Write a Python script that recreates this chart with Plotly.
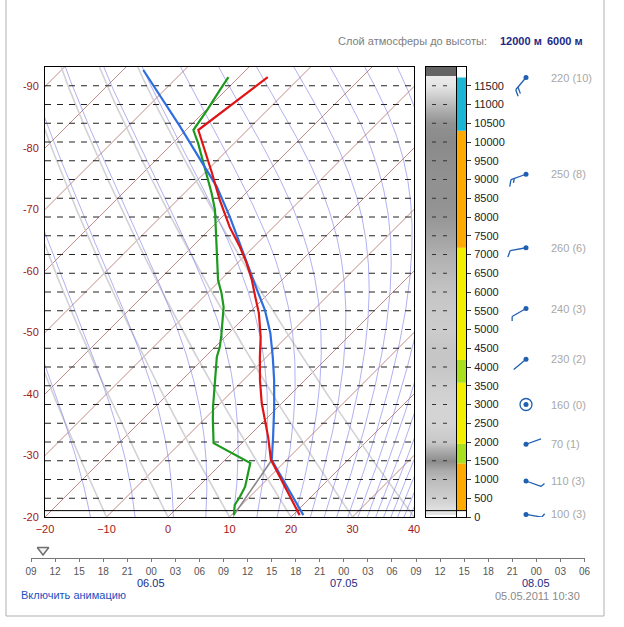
import numpy as np
import plotly.graph_objects as go

# ---------------- data ----------------
# temperature profile (height m, temperature °C)
temp_height = [50, 1530, 2130, 2590, 3040, 3650, 4270, 4800, 5440, 5870, 6320, 6770,
               7200, 7730, 8450, 9200, 10320, 11730]
temp_value = [21.1, 7.4, 3.3, 0.0, -3.3, -7.3, -11.1, -14.2, -18.4, -21.6, -24.9, -28.5,
              -32.2, -37.1, -43.1, -49.0, -58.0, -55.3]

# dew point profile
dew_height = [50, 320, 540, 810, 1440, 1970, 2590, 2940, 3650, 4270, 4530, 4850, 5600,
              5970, 6320, 7200, 8190, 8640, 9440, 9970, 10320, 10850, 11390, 11730]
dew_value = [10.4, 8.9, 8.4, 7.6, 4.6, -4.6, -8.5, -10.6, -14.6, -18.1, -19.2, -20.9, -25.1,
             -27.7, -30.4, -36.0, -42.3, -45.6, -51.8, -55.9, -58.8, -59.8, -61.0, -61.7]

# parcel (state) curve
parcel_height = [50, 1520, 2130, 2930, 3650, 4270, 4910, 5520, 6050, 7030, 8010, 8810,
                 9520, 10410, 11920]
parcel_value = [21.7, 7.6, 4.1, -0.6, -5.0, -9.0, -13.3, -17.9, -22.4, -30.6, -38.8, -45.8,
                -52.8, -61.5, -76.7]

# diagram background families
isotherm_values = list(range(-110, 50, 10))            # °C
dry_adiabat_surface_temps = list(range(-60, 50, 10))    # °C at z = 0
moist_adiabat_theta_e = [253.15 + 10 * i for i in range(24)]  # K

left_tick_labels = [-20, -30, -40, -50, -60, -70, -80, -90]
bottom_tick_labels = [-20, -10, 0, 10, 20, 30, 40]
height_levels = list(range(500, 12000, 500))
height_tick_labels = list(range(0, 12000, 500))
ground_height = 170

# humidity column (gray shading, 0 = black, 255 = white)
column_heights = [170, 400, 700, 1000, 1250, 1500, 1750, 2000, 2500, 3000, 3500, 4000, 4500,
                  5000, 5500, 6000, 6500, 7000, 7500, 8000, 8500, 9000, 9500, 10000, 10500,
                  11000, 11500, 11750, 11790, 11950]
column_shade = [228, 212, 200, 188, 170, 140, 170, 200, 212, 212, 206, 198, 198,
                204, 202, 196, 186, 176, 162, 150, 145, 145, 142, 138, 145,
                185, 228, 235, 100, 100]

# cloud/icing layers strip
layer_bottom = [170, 1430, 1950, 3580, 4190, 7180, 10300]
layer_top = [1430, 1950, 3580, 4190, 7180, 10300, 11720]
layer_color = ["#ffaa00", "#a8e020", "#f2f000", "#a8e020", "#f2f000", "#ffaa00", "#1cb6d4"]

# winds
wind_height = [11720, 9140, 7180, 5560, 4210, 3000, 1940, 960, 70]
wind_dir = [220, 250, 260, 240, 230, 160, 70, 110, 100]
wind_speed = [10, 8, 6, 3, 2, 0, 1, 3, 3]

# timeline (hours since 05.05 00:00)
timeline_hours = list(range(9, 79, 3))
timeline_current = 10.5
date_hours = [24, 48, 72]
date_texts = ["06.05", "07.05", "08.05"]

# ---------------- layout geometry (pixels) ----------------
W, H = 624, 627
PLOT_L, PLOT_R, PLOT_T, PLOT_B = 45, 414, 67, 517
X_RANGE = [-20, 40]
Z_RANGE = [0, 12000]
px_per_deg = (PLOT_R - PLOT_L) / (X_RANGE[1] - X_RANGE[0])
px_per_m = (PLOT_B - PLOT_T) / (Z_RANGE[1] - Z_RANGE[0])
SKEW = px_per_m / px_per_deg      # °C of shift per metre (45° isotherms)


def py(v):
    return 1 - v / H


def px(v):
    return v / W


def skew(t, z):
    return [float(a) + SKEW * float(b) for a, b in zip(t, z)]


def std_pressure(z):
    z = np.asarray(z, float)
    p_trop = 1013.25 * np.clip(1 - 0.0065 * z / 288.15, 1e-6, None) ** 5.2559
    p_strat = 226.32 * np.exp(-(z - 11000.0) / 6341.6)
    return np.where(z <= 11000, p_trop, p_strat)


def sat_theta_e(tk, p):
    tc = tk - 273.15
    es = 6.112 * np.exp(17.67 * tc / (tc + 243.5))
    r = 0.622 * es / (p - es)
    return tk * (1000.0 / p) ** 0.2857 * np.exp(2.5e6 * r / (1004.0 * tk))


z_grid = np.linspace(0, 12000, 241)
p_grid = std_pressure(z_grid)


def moist_profile(te):
    lo = np.full_like(p_grid, 150.0)
    hi = np.full_like(p_grid, 318.0)
    for _ in range(50):
        mid = 0.5 * (lo + hi)
        above = sat_theta_e(mid, p_grid) > te
        hi = np.where(above, mid, hi)
        lo = np.where(above, lo, mid)
    return 0.5 * (lo + hi) - 273.15


def joined(segments):
    xs, ys = [], []
    for sx, sy in segments:
        xs += [float(v) for v in sx] + [None]
        ys += [float(v) for v in sy] + [None]
    return xs, ys


fig = go.Figure()

# isotherms
iso_x, iso_y = joined([(skew([t, t], Z_RANGE), Z_RANGE) for t in isotherm_values])
fig.add_trace(go.Scatter(x=iso_x, y=iso_y, mode="lines",
                         line=dict(color="rgba(180,110,105,0.8)", width=1), hoverinfo="skip"))

# dry adiabats
dry = []
for t0 in dry_adiabat_surface_temps:
    tz = (t0 + 273.15) * (p_grid / 1013.25) ** 0.2857 - 273.15
    dry.append((skew(tz, z_grid), z_grid))
dx, dy = joined(dry)
fig.add_trace(go.Scatter(x=dx, y=dy, mode="lines",
                         line=dict(color="rgba(205,205,210,0.9)", width=1.6), hoverinfo="skip"))

# moist adiabats
moist = []
for te in moist_adiabat_theta_e:
    moist.append((skew(moist_profile(te), z_grid), z_grid))
mx, my = joined(moist)
fig.add_trace(go.Scatter(x=mx, y=my, mode="lines",
                         line=dict(color="rgba(115,115,230,0.7)", width=0.8), hoverinfo="skip"))

# dashed height levels
gx, gy = joined([(X_RANGE, [h, h]) for h in height_levels])
fig.add_trace(go.Scatter(x=gx, y=gy, mode="lines",
                         line=dict(color="#222222", width=1, dash="6px,6px"), hoverinfo="skip"))

# ground line
fig.add_trace(go.Scatter(x=X_RANGE, y=[ground_height, ground_height], mode="lines",
                         line=dict(color="#000000", width=1), hoverinfo="skip"))

# mixing-ratio line from surface dew point to LCL
fig.add_trace(go.Scatter(x=skew([dew_value[0], parcel_value[1]], [dew_height[0], parcel_height[1]]),
                         y=[dew_height[0], parcel_height[1]], mode="lines",
                         line=dict(color="#888888", width=1.6), hoverinfo="skip"))

# profiles
fig.add_trace(go.Scatter(x=skew(dew_value, dew_height), y=dew_height, mode="lines",
                         line=dict(color="#1d9a1d", width=2.2), hoverinfo="skip"))
fig.add_trace(go.Scatter(x=skew(parcel_value, parcel_height), y=parcel_height, mode="lines",
                         line=dict(color="#2f6ee0", width=2.2), hoverinfo="skip"))
fig.add_trace(go.Scatter(x=skew(temp_value, temp_height), y=temp_height, mode="lines",
                         line=dict(color="#e01414", width=2.2), hoverinfo="skip"))

# ---------------- right column ----------------
COL_L, COL_SEP, COL_R = 426, 456.5, 466
fig.add_trace(go.Heatmap(x=[0, COL_SEP - COL_L], y=column_heights,
                         z=[[v] for v in column_shade], zmin=0, zmax=255, zsmooth="best",
                         colorscale=[[0, "rgb(0,0,0)"], [1, "rgb(255,255,255)"]],
                         showscale=False, hoverinfo="skip", xaxis="x2", yaxis="y2"))
fig.add_trace(go.Bar(x=[(COL_SEP + COL_R) / 2 - COL_L] * len(layer_bottom),
                     y=[t - b for t, b in zip(layer_top, layer_bottom)], base=layer_bottom,
                     width=COL_R - COL_SEP, marker=dict(color=layer_color, line=dict(width=0)),
                     hoverinfo="skip", xaxis="x2", yaxis="y2"))
cdx, cdy = joined([([6, 10], [h, h]) for h in height_levels] +
                  [([17, 21], [h, h]) for h in height_levels])
fig.add_trace(go.Scatter(x=cdx, y=cdy, mode="lines", line=dict(color="#333333", width=1),
                         hoverinfo="skip", xaxis="x2", yaxis="y2"))
fig.add_trace(go.Scatter(x=[COL_SEP - COL_L] * 2, y=Z_RANGE, mode="lines",
                         line=dict(color="#000000", width=1), hoverinfo="skip",
                         xaxis="x2", yaxis="y2"))
fig.add_trace(go.Scatter(x=[0, COL_R - COL_L], y=[ground_height] * 2, mode="lines",
                         line=dict(color="#000000", width=1), hoverinfo="skip",
                         xaxis="x2", yaxis="y2"))

# ---------------- wind barbs ----------------
BARB_L, BARB_R, STATION = 470, 604, 526
u = 1 / px_per_m        # axis units per pixel
bx, by = [], []
calm_x, calm_y = [], []
for h, d, s in zip(wind_height, wind_dir, wind_speed):
    if s == 0:
        calm_x.append(0)
        calm_y.append(h)
        continue
    sx, sy = float(np.sin(np.radians(d))), float(np.cos(np.radians(d)))
    L = 16 * u
    ex, ey = L * sx, h + L * sy
    bx += [0, ex, None]
    by += [h, ey, None]
    rx = sx * 0.5 - sy * 0.866
    ry = sx * 0.866 + sy * 0.5
    n_full, half = int(s // 5), (s % 5) >= 2.5
    for i in range(n_full):
        ox, oy = ex - i * 3.5 * u * sx, ey - i * 3.5 * u * sy
        bx += [ox, ox + 7 * u * rx, None]
        by += [oy, oy + 7 * u * ry, None]
    if half:
        i = n_full
        ox, oy = ex - i * 3.5 * u * sx, ey - i * 3.5 * u * sy
        bx += [ox, ox + 4.5 * u * rx, None]
        by += [oy, oy + 4.5 * u * ry, None]
barb_color = "#2060b0"
fig.add_trace(go.Scatter(x=bx, y=by, mode="lines", line=dict(color=barb_color, width=1.3),
                         hoverinfo="skip", xaxis="x3", yaxis="y3"))
fig.add_trace(go.Scatter(x=[0] * len(wind_height), y=wind_height, mode="markers",
                         marker=dict(color=barb_color, size=5), hoverinfo="skip",
                         xaxis="x3", yaxis="y3"))
fig.add_trace(go.Scatter(x=calm_x, y=calm_y, mode="markers",
                         marker=dict(symbol="circle-open", color=barb_color, size=12,
                                     line=dict(width=1.3)),
                         hoverinfo="skip", xaxis="x3", yaxis="y3"))

annotations = []
for h, d, s in zip(wind_height, wind_dir, wind_speed):
    annotations.append(dict(x=(549 - STATION) * u, y=h, xref="x3", yref="y3",
                            text=f"{d} ({s})", showarrow=False, xanchor="left",
                            yanchor="middle", font=dict(size=11, color="#a8a8a8")))

# ---------------- timeline ----------------
TL_LINE = 558
fig.add_trace(go.Scatter(x=[timeline_current], y=[8], mode="markers",
                         marker=dict(symbol="triangle-down", size=10, color="#f2f2f2",
                                     line=dict(color="#707070", width=1.5)),
                         hoverinfo="skip", xaxis="x4", yaxis="y4"))
for hr, txt in zip(date_hours, date_texts):
    annotations.append(dict(x=hr, y=py(583), xref="x4", yref="paper", text=txt,
                            showarrow=False, xanchor="center", yanchor="middle",
                            font=dict(size=11, color="#1c2a86")))

# ---------------- texts ----------------
FONT = "Liberation Sans, Arial, sans-serif"
annotations += [
    dict(x=px(489), y=py(41), xref="paper", yref="paper", text="Слой атмосферы до высоты:",
         showarrow=False, xanchor="right", yanchor="middle", font=dict(size=11, color="#808080")),
    dict(x=px(498), y=py(41), xref="paper", yref="paper", text="<b>12000 м</b>",
         showarrow=False, xanchor="left", yanchor="middle", font=dict(size=11, color="#1c2a86")),
    dict(x=px(545), y=py(41), xref="paper", yref="paper", text="<b>6000 м</b>",
         showarrow=False, xanchor="left", yanchor="middle", font=dict(size=11, color="#1c2a86")),
    dict(x=px(19), y=py(595), xref="paper", yref="paper", text="Включить анимацию",
         showarrow=False, xanchor="left", yanchor="middle", font=dict(size=11, color="#2250c0")),
    dict(x=px(582), y=py(596), xref="paper", yref="paper", text="05.05.2011 10:30",
         showarrow=False, xanchor="right", yanchor="middle", font=dict(size=11, color="#8a8a8a")),
]

label_color = "#a01818"
main_y_dom = [py(PLOT_B), py(PLOT_T)]
fig.update_layout(
    width=W, height=H, margin=dict(l=0, r=0, t=0, b=0), autosize=False,
    paper_bgcolor="white", plot_bgcolor="white", showlegend=False, barmode="overlay",
    font=dict(family=FONT, size=11),
    xaxis=dict(domain=[px(PLOT_L), px(PLOT_R)], range=X_RANGE, tickvals=bottom_tick_labels,
               showgrid=False, zeroline=False, showline=True, mirror=True, linecolor="#000",
               linewidth=1, ticks="", tickfont=dict(color=label_color, size=11),
               ticklabelstandoff=2, automargin=False, fixedrange=True),
    yaxis=dict(domain=main_y_dom, range=Z_RANGE,
               tickvals=[(-20 - t) / SKEW for t in left_tick_labels],
               ticktext=[str(t) for t in left_tick_labels],
               showgrid=False, zeroline=False, showline=True, mirror=True, linecolor="#000",
               linewidth=1, ticks="", tickfont=dict(color=label_color, size=11),
               ticklabelstandoff=3, automargin=False, fixedrange=True),
    xaxis2=dict(domain=[px(COL_L), px(COL_R)], range=[0, COL_R - COL_L], anchor="y2",
                showgrid=False, zeroline=False, showticklabels=False, showline=True, mirror=True,
                linecolor="#000", linewidth=1, ticks="", automargin=False, fixedrange=True),
    yaxis2=dict(domain=main_y_dom, range=Z_RANGE, anchor="x2", side="right",
                tickvals=height_tick_labels, ticktext=[str(v) for v in height_tick_labels],
                showgrid=False, zeroline=False, showline=True,
                mirror=True, linecolor="#000", linewidth=1, ticks="outside", ticklen=4,
                tickcolor="#333", tickfont=dict(size=11, color="#222"), ticklabelstandoff=1,
                automargin=False, fixedrange=True),
    xaxis3=dict(domain=[px(BARB_L), px(BARB_R)], range=[(BARB_L - STATION) * u, (BARB_R - STATION) * u],
                anchor="y3", visible=False, fixedrange=True),
    yaxis3=dict(domain=main_y_dom, range=Z_RANGE, anchor="x3", visible=False, fixedrange=True),
    xaxis4=dict(domain=[px(31), px(584.5)], range=[timeline_hours[0], timeline_hours[-1]],
                anchor="y4", tickvals=timeline_hours,
                ticktext=[f"{hr % 24:02d}" for hr in timeline_hours], showgrid=False,
                zeroline=False, showline=True, linecolor="#777", linewidth=1, ticks="outside",
                ticklen=3, tickcolor="#777", tickfont=dict(size=10, color="#555"),
                ticklabelstandoff=1, automargin=False, fixedrange=True),
    yaxis4=dict(domain=[py(TL_LINE), py(TL_LINE - 24)], range=[0, 24], anchor="x4", visible=False,
                fixedrange=True),
    annotations=annotations,
    shapes=[dict(type="rect", xref="paper", yref="paper", x0=px(6), x1=px(604),
                 y0=py(616), y1=py(-2), line=dict(color="#b0b0b0", width=1), layer="below")],
)

fig.write_html("out.html", post_script="document.body.style.margin='0';",
               config={"displayModeBar": False, "staticPlot": True})
